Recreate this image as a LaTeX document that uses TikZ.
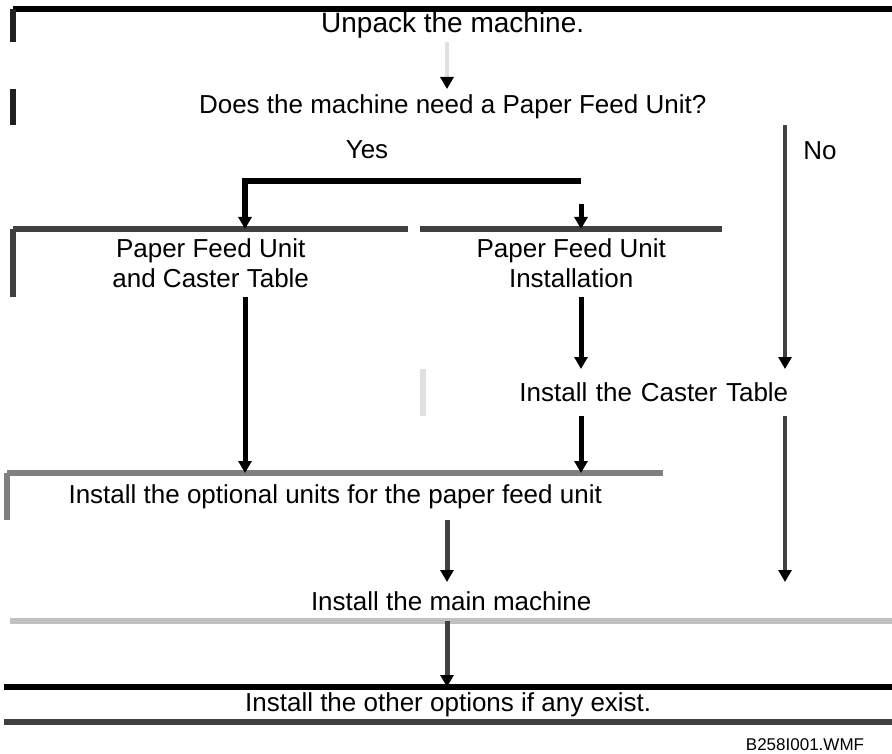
\documentclass[tikz,border=0pt]{standalone}
\usepackage{fontspec}
\setmainfont{Liberation Sans}
\usetikzlibrary{arrows.meta}
\definecolor{dk}{HTML}{404040}
\definecolor{bar}{HTML}{202020}
\definecolor{midg}{HTML}{808080}
\definecolor{lg}{HTML}{C0C0C0}
\definecolor{vlg}{HTML}{E0E0E0}
\begin{document}
\begin{tikzpicture}[x=1pt,y=-1pt,
  box/.style={anchor=north west, inner sep=0pt, align=center, font=\fontsize{26}{30}\selectfont},
  lbl/.style={inner sep=0pt, font=\fontsize{26}{30}\selectfont},
  rule/.style={line width=6pt},
  arr/.style={line width=5pt, -{Triangle[width=13pt,length=12pt,color=black]}},
  ]
\useasboundingbox (0,0) rectangle (892,754);

% boxes
\node[box, minimum width=879pt, minimum height=33pt, font=\fontsize{28}{30}\selectfont] (unpack) at (13,9) {Unpack the machine.};
\node[box, minimum width=879pt, minimum height=36pt] (q) at (13,89) {Does the machine need a Paper Feed Unit?};
\node[lbl] (yes) at (367,150) {Yes};
\node[lbl] (no) at (820,151) {No};
\node[box, minimum width=395pt, minimum height=68pt] (pf1) at (13,229) {Paper Feed Unit\\and Caster Table};
\node[box, minimum width=302pt, minimum height=68pt] (pf2) at (420,229) {Paper Feed Unit\\Installation};
\node[box, minimum width=367pt, minimum height=47pt, text width=363pt, align=right] (mid) at (423,369) {Install the Caster Table};
\node[box, minimum width=656pt, minimum height=47pt] (long) at (7,473) {Install the optional units for the paper feed unit};
\node[box, minimum width=882pt, minimum height=39pt] (main) at (10,582) {Install the main machine};
\node[box, minimum width=888pt, minimum height=35pt] (last) at (4,687) {Install the other options if any exist.};
\node[inner sep=0pt, font=\fontsize{17}{20}\selectfont] (code) at (805,745) {B258I001.WMF};

% box rules
\draw[rule, black] (unpack.north west) -- (unpack.north east);
\draw[rule, bar] (unpack.north west) -- (unpack.south west);
\draw[rule, bar] (q.north west) -- (q.south west);
\draw[rule, dk] (pf1.north west) -- (pf1.north east);
\draw[rule, dk] (pf1.north west) -- (pf1.south west);
\draw[rule, dk] (pf2.north west) -- (pf2.north east);
\draw[rule, vlg] (mid.north west) -- (mid.south west);
\draw[rule, midg] (long.north west) -- (long.north east);
\draw[rule, midg] (long.north west) -- (long.south west);
\draw[rule, lg] (main.south west) -- (main.south east);
\draw[rule, black] (last.north west) -- (last.north east);
\draw[rule, dk] (last.south west) -- (last.south east);

% connector columns
\coordinate (cA) at (447,0);
\coordinate (cL) at (245,0);
\coordinate (cR) at (581,0);
\coordinate (cN) at (785,0);
\coordinate (yesR) at (581,181);
\coordinate (pf2in) at (581,204);

% connectors
\draw[arr, vlg, line width=4pt] (unpack.south -| cA) -- (q.north -| cA);
\draw[arr, line width=6pt] (yesR) -| (pf1.north -| cL);
\draw[arr] (pf2in) -- (pf2.north -| cR);
\draw[arr, dk, line width=4pt] (q.south -| cN) -- (mid.north -| cN);
\draw[arr, dk, line width=4pt] (mid.south -| cN) -- (main.north -| cN);
\draw[arr] (pf1.south -| cL) -- (long.north -| cL);
\draw[arr] (pf2.south -| cR) -- (mid.north -| cR);
\draw[arr] (mid.south -| cR) -- (long.north -| cR);
\draw[arr, dk] (long.south -| cA) -- (main.north -| cA);
\draw[arr, dk] (main.south -| cA) -- (last.north -| cA);
\end{tikzpicture}
\end{document}
